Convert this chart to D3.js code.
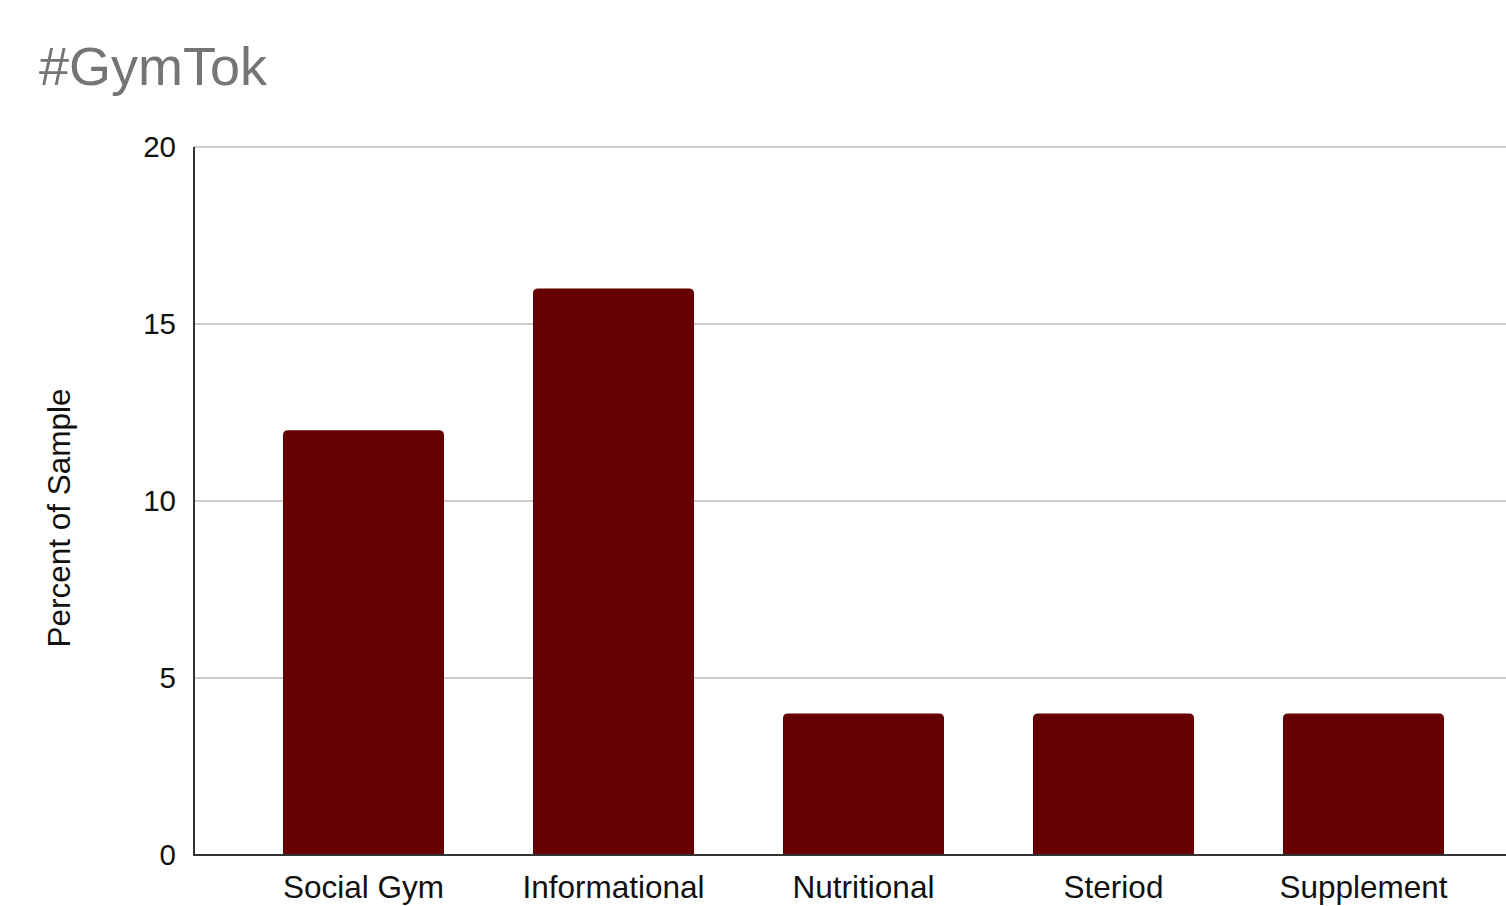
<!DOCTYPE html>
<html>
<head>
<meta charset="utf-8">
<script src="https://cdn.jsdelivr.net/npm/d3@7"></script>
<style>
  html, body { margin: 0; padding: 0; background: #fff; }
  svg { display: block; font-family: "Liberation Sans", Arial, sans-serif; }
</style>
</head>
<body>
<svg id="chart" width="1506" height="906"></svg>
<script>
const categories = ["Social Gym", "Informational", "Nutritional", "Steriod", "Supplement"];
const values = [12, 16, 4, 4, 4];
const yTicks = [0, 5, 10, 15, 20];

const svg = d3.select("#chart");
const plot = { left: 194, right: 1506, top: 147, bottom: 855 };

const y = d3.scaleLinear().domain([0, 20]).range([plot.bottom, plot.top]);
const x = d3.scaleBand()
  .domain(categories)
  .range([238.5, 1488.5])
  .paddingInner(0.356)
  .paddingOuter(0.178);

// title
svg.append("text")
  .attr("x", 39).attr("y", 85)
  .attr("fill", "#757575")
  .attr("font-size", 54)
  .text("#GymTok");

// gridlines
svg.append("g")
  .selectAll("line")
  .data(yTicks.filter(d => d > 0))
  .join("line")
  .attr("x1", plot.left).attr("x2", plot.right)
  .attr("y1", d => y(d)).attr("y2", d => y(d))
  .attr("stroke", "#cccccc").attr("stroke-width", 2);

// y axis labels
const yAxis = d3.axisLeft(y).tickValues(yTicks).tickSize(0).tickPadding(18);
const gy = svg.append("g").attr("transform", `translate(${plot.left},0)`).call(yAxis);
gy.select(".domain").remove();
gy.selectAll("text")
  .attr("font-family", "Liberation Sans, Arial, sans-serif")
  .attr("font-size", 29.5).attr("fill", "#111");

// bars, flat bottom and rounded top corners
const r = 5;
svg.append("g")
  .selectAll("path")
  .data(categories.map((c, i) => ({ c, v: values[i] })))
  .join("path")
  .attr("fill", "#660000")
  .attr("d", d => {
    const x0 = x(d.c), x1 = x0 + x.bandwidth();
    const y0 = y(d.v), y1 = y(0);
    return `M${x0},${y1}V${y0 + r}Q${x0},${y0} ${x0 + r},${y0}H${x1 - r}Q${x1},${y0} ${x1},${y0 + r}V${y1}Z`;
  });

// axis lines
svg.append("line")
  .attr("x1", plot.left).attr("x2", plot.left)
  .attr("y1", plot.top).attr("y2", plot.bottom + 1)
  .attr("stroke", "#333").attr("stroke-width", 2);
svg.append("line")
  .attr("x1", plot.left - 1).attr("x2", plot.right)
  .attr("y1", plot.bottom).attr("y2", plot.bottom)
  .attr("stroke", "#333").attr("stroke-width", 2);

// x axis labels
const xAxis = d3.axisBottom(x).tickSize(0).tickPadding(21);
const gx = svg.append("g").attr("transform", `translate(0,${plot.bottom})`).call(xAxis);
gx.select(".domain").remove();
gx.selectAll("text")
  .attr("font-family", "Liberation Sans, Arial, sans-serif")
  .attr("font-size", 31.5).attr("fill", "#111");

// y axis title
svg.append("text")
  .attr("transform", `translate(70,${(plot.top + plot.bottom) / 2 + 17}) rotate(-90)`)
  .attr("text-anchor", "middle")
  .attr("font-size", 31.5).attr("fill", "#111")
  .text("Percent of Sample");
</script>
</body>
</html>
